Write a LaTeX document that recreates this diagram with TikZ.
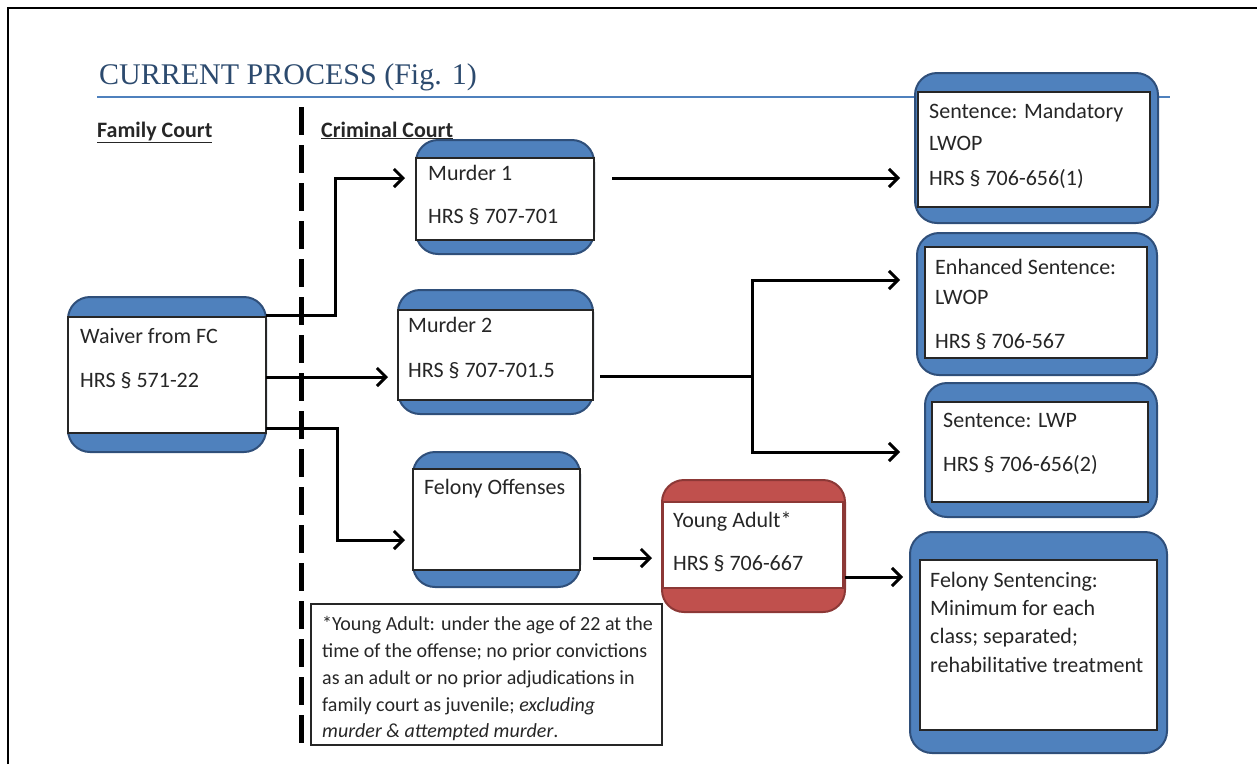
\documentclass[tikz,border=0pt]{standalone}
\usepackage{fontspec}
\setmainfont{Carlito}
\newfontfamily\titlefont{Liberation Serif}
\usetikzlibrary{fit,arrows.meta}

\definecolor{blueback}{HTML}{4F81BD}
\definecolor{bluedark}{HTML}{2F4F7A}
\definecolor{redback}{HTML}{C0504D}
\definecolor{reddark}{HTML}{8C3836}
\definecolor{titleblue}{HTML}{2C4A6E}
\definecolor{txt}{HTML}{262626}

\tikzset{
  bluebox/.style={draw=bluedark, fill=blueback, line width=2pt, rounded corners=22pt, inner sep=0pt, outer sep=0pt},
  redbox/.style={bluebox, draw=reddark, fill=redback},
  whitebox/.style={draw=txt, fill=white, line width=1.2pt, inner sep=0pt, outer sep=0pt},
  boxtext/.style={anchor=base west, inner sep=0pt, text=txt, font=\fontsize{22}{24}\selectfont},
  notetext/.style={boxtext, font=\fontsize{20}{22}\selectfont},
  link/.style={-{Straight Barb[length=9pt,width=18pt]}, line width=3pt},
}

\begin{document}
\begin{tikzpicture}[x=1pt, y=-1pt]
  \useasboundingbox (0,0) rectangle (1257,764);
  % frame and title
  \draw[line width=2pt] (8,764) -- (8,8) -- (1257,8);
  \node[anchor=base west, inner sep=0pt, text=titleblue, font=\titlefont\fontsize{30}{34}\selectfont] (title) at (99,84) {CURRENT PROCESS (Fig. 1)};
  \draw[blueback, line width=1.5pt] (97,97) -- (1170,97);
  \node[boxtext, font=\bfseries\fontsize{22}{24}\selectfont] (family) at (97,137) {\underline{Family Court}};
  \node[boxtext, font=\bfseries\fontsize{22}{24}\selectfont] (criminal) at (321,137) {\underline{Criminal Court}};
  \draw[line width=5pt, dash pattern=on 28pt off 10pt] (301,107) -- (301,752);

  % outer boxes
  \node[bluebox, fit={(68,297) (266,452)}] (waiver) {};
  \node[bluebox, fit={(416,140) (594,254)}] (murder1) {};
  \node[bluebox, fit={(398,290) (593,414)}] (murder2) {};
  \node[bluebox, fit={(413,452) (580,587)}] (felony) {};
  \node[redbox, fit={(662,480) (845,612)}] (young) {};
  \node[bluebox, fit={(915,73) (1158,223)}] (mandatory) {};
  \node[bluebox, fit={(917,233) (1157,375)}] (enhanced) {};
  \node[bluebox, fit={(925,383) (1157,517)}] (lwp) {};
  \node[bluebox, fit={(910,532) (1167,753)}] (felsent) {};

  % white panels
  \node[whitebox, fit={(68,317) (266,433)}] (waiverIn) {};
  \node[whitebox, fit={(416,158) (594,240)}] (murder1In) {};
  \node[whitebox, fit={(398,310) (593,400)}] (murder2In) {};
  \node[whitebox, fit={(413,469) (580,570)}] (felonyIn) {};
  \node[whitebox, draw=reddark, fit={(663,502) (843,588)}] (youngIn) {};
  \node[whitebox, fit={(918,92) (1150,207)}] (mandatoryIn) {};
  \node[whitebox, fit={(925,247) (1147,358)}] (enhancedIn) {};
  \node[whitebox, fit={(932,402) (1148,502)}] (lwpIn) {};
  \node[whitebox, fit={(920,560) (1157,730)}] (felsentIn) {};

  % box texts
  \node[boxtext] (waiverA) at (80,343) {Waiver from FC};
  \node[boxtext] (waiverB) at (80,387) {HRS § 571-22};
  \node[boxtext] (murder1A) at (428,180) {Murder 1};
  \node[boxtext] (murder1B) at (428,223) {HRS § 707-701};
  \node[boxtext] (murder2A) at (408,332) {Murder 2};
  \node[boxtext] (murder2B) at (408,377) {HRS § 707-701.5};
  \node[boxtext] (felonyA) at (424,494) {Felony Offenses};
  \node[boxtext] (youngA) at (673,527) {Young Adult*};
  \node[boxtext] (youngB) at (673,570) {HRS § 706-667};
  \node[boxtext] (mandatoryA) at (929,118) {Sentence: Mandatory};
  \node[boxtext] (mandatoryB) at (929,150) {LWOP};
  \node[boxtext] (mandatoryC) at (929,185) {HRS § 706-656(1)};
  \node[boxtext] (enhancedA) at (935,274) {Enhanced Sentence:};
  \node[boxtext] (enhancedB) at (935,304) {LWOP};
  \node[boxtext] (enhancedC) at (935,348) {HRS § 706-567};
  \node[boxtext] (lwpA) at (943,427) {Sentence: LWP};
  \node[boxtext] (lwpB) at (943,471) {HRS § 706-656(2)};
  \node[boxtext] (felsentA) at (930,587) {Felony Sentencing:};
  \node[boxtext] (felsentB) at (930,615) {Minimum for each};
  \node[boxtext] (felsentC) at (930,643) {class; separated;};
  \node[boxtext] (felsentD) at (930,672) {rehabilitative treatment};

  % footnote
  \node[draw=txt, line width=1.2pt, inner sep=0pt, fit={(311,604) (662,745)}] (note) {};
  \node[notetext] (noteA) at (322,630) {*Young Adult: under the age of 22 at the};
  \node[notetext] (noteB) at (322,657) {time of the offense; no prior convictions};
  \node[notetext] (noteC) at (322,684) {as an adult or no prior adjudications in};
  \node[notetext] (noteD) at (322,711) {family court as juvenile; \textit{excluding}};
  \node[notetext] (noteE) at (322,737) {\textit{murder \& attempted murder}.};

  % connectors
  \draw[link] ([yshift=-18pt]waiver.north east) -- ++(69,0) |- ([xshift=-11pt,yshift=-38pt]murder1.north west);
  \draw[link] ([yshift=-80pt]waiver.north east) -- ([xshift=-10pt,yshift=-87pt]murder2.north west);
  \draw[link] ([yshift=-131pt]waiver.north east) -- ++(71,0) |- ([xshift=-8pt,yshift=-88pt]felony.north west);
  \draw[link] ([xshift=18pt,yshift=19pt]murder1.east) -- ([xshift=-15pt,yshift=-30pt]mandatory.west);
  \draw[link] ([xshift=7pt,yshift=-24pt]murder2.east) -- ++(152,0) coordinate (split) |- ([xshift=-17pt,yshift=24pt]enhanced.west);
  \draw[link] (split) |- ([xshift=-25pt,yshift=-2pt]lwp.west);
  \draw[link] ([xshift=13pt,yshift=-38.5pt]felony.east) -- ([xshift=-10pt,yshift=-12pt]young.west);
  \draw[link] ([yshift=-31pt]young.east) -- ([xshift=-7pt,yshift=65.5pt]felsent.west);
\end{tikzpicture}
\end{document}
